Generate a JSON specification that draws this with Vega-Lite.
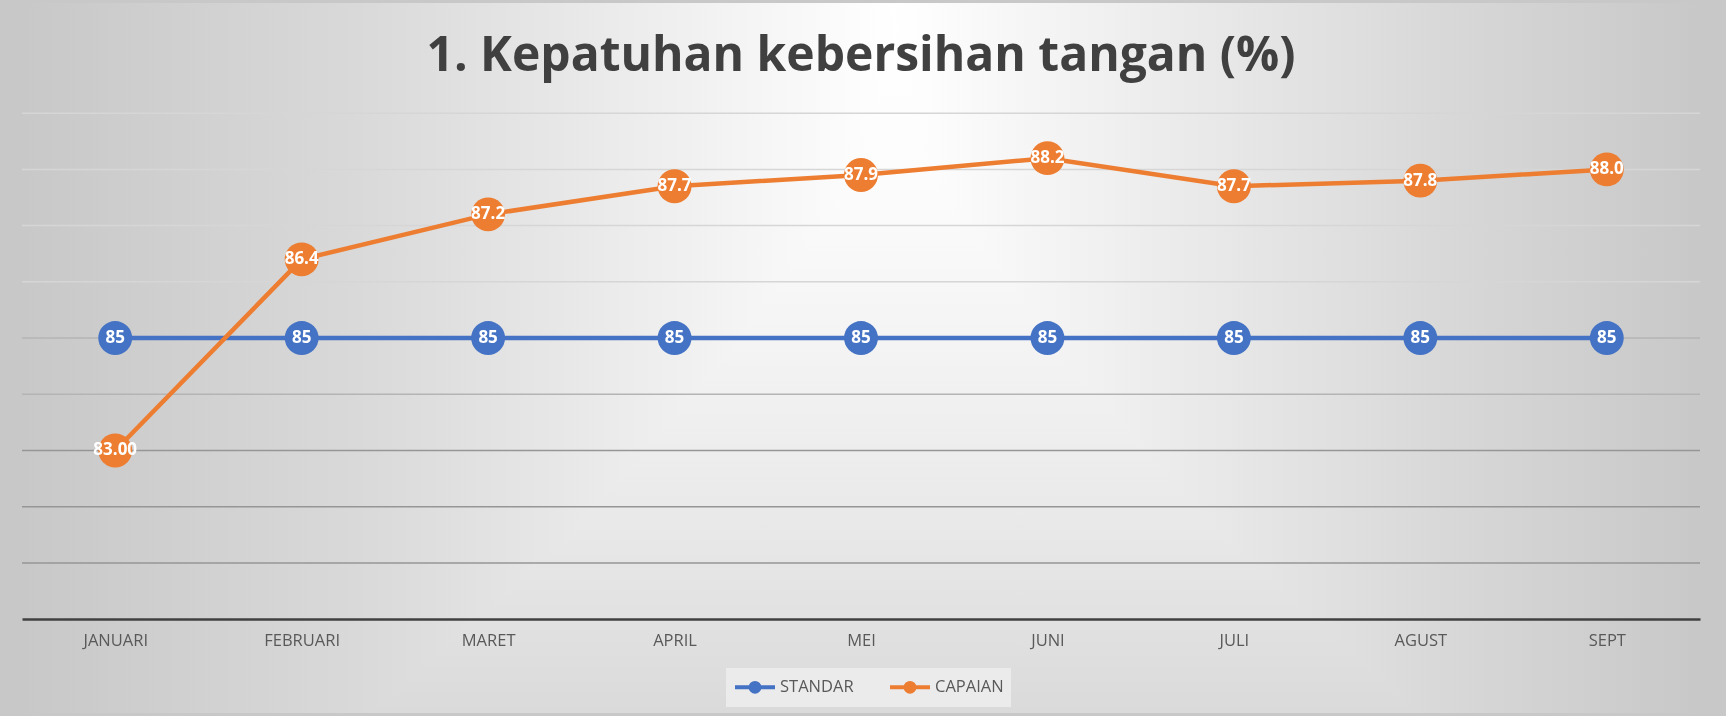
{
  "$schema": "https://vega.github.io/schema/vega-lite/v6.json",
  "description": "Kepatuhan kebersihan tangan: standar vs capaian per bulan.",
  "width": 1678,
  "height": 710,
  "autosize": {"type": "none"},
  "padding": {"left": 22, "top": 3, "right": 26, "bottom": 3},
  "background": "#c8c8c8",
  "title": {
    "text": "1. Kepatuhan kebersihan tangan (%)",
    "font": "Open Sans",
    "fontSize": 48,
    "fontWeight": "bold",
    "color": "#404040",
    "anchor": "middle",
    "frame": "group",
    "baseline": "middle",
    "offset": -52,
    "dy": 50
  },
  "datasets": {
    "bg": [{}],
    "gridlines": [
      {"nilai": 81}, {"nilai": 82}, {"nilai": 83}, {"nilai": 84}, {"nilai": 85},
      {"nilai": 86}, {"nilai": 87}, {"nilai": 88}, {"nilai": 89}
    ],
    "chart": [
      {"bulan": "JANUARI", "seri": "STANDAR", "nilai": 85, "label": "85"},
      {"bulan": "FEBRUARI", "seri": "STANDAR", "nilai": 85, "label": "85"},
      {"bulan": "MARET", "seri": "STANDAR", "nilai": 85, "label": "85"},
      {"bulan": "APRIL", "seri": "STANDAR", "nilai": 85, "label": "85"},
      {"bulan": "MEI", "seri": "STANDAR", "nilai": 85, "label": "85"},
      {"bulan": "JUNI", "seri": "STANDAR", "nilai": 85, "label": "85"},
      {"bulan": "JULI", "seri": "STANDAR", "nilai": 85, "label": "85"},
      {"bulan": "AGUST", "seri": "STANDAR", "nilai": 85, "label": "85"},
      {"bulan": "SEPT", "seri": "STANDAR", "nilai": 85, "label": "85"},
      {"bulan": "JANUARI", "seri": "CAPAIAN", "nilai": 83.0, "label": "83.00"},
      {"bulan": "FEBRUARI", "seri": "CAPAIAN", "nilai": 86.4, "label": "86.4"},
      {"bulan": "MARET", "seri": "CAPAIAN", "nilai": 87.2, "label": "87.2"},
      {"bulan": "APRIL", "seri": "CAPAIAN", "nilai": 87.7, "label": "87.7"},
      {"bulan": "MEI", "seri": "CAPAIAN", "nilai": 87.9, "label": "87.9"},
      {"bulan": "JUNI", "seri": "CAPAIAN", "nilai": 88.2, "label": "88.2"},
      {"bulan": "JULI", "seri": "CAPAIAN", "nilai": 87.7, "label": "87.7"},
      {"bulan": "AGUST", "seri": "CAPAIAN", "nilai": 87.8, "label": "87.8"},
      {"bulan": "SEPT", "seri": "CAPAIAN", "nilai": 88.0, "label": "88.0"}
    ]
  },
  "layer": [
    {
      "data": {"name": "bg"},
      "mark": {
        "type": "rect",
        "color": {
          "gradient": "linear",
          "x1": 0, "y1": 0, "x2": 1, "y2": 0,
          "stops": [
            {"offset": 0, "color": "#c8c8c8"},
            {"offset": 0.2, "color": "#d9d9d9"},
            {"offset": 0.36, "color": "#ececec"},
            {"offset": 0.52, "color": "#ffffff"},
            {"offset": 0.68, "color": "#ececec"},
            {"offset": 0.84, "color": "#d9d9d9"},
            {"offset": 1, "color": "#c8c8c8"}
          ]
        }
      }
    },
    {
      "data": {"name": "bg"},
      "mark": {
        "type": "rect",
        "blend": "darken",
        "color": {
          "gradient": "linear",
          "x1": 0, "y1": 0, "x2": 0, "y2": 1,
          "stops": [
            {"offset": 0, "color": "#ffffff"},
            {"offset": 0.25, "color": "#fcfcfc"},
            {"offset": 0.5, "color": "#f3f3f3"},
            {"offset": 0.75, "color": "#e8e8e8"},
            {"offset": 1, "color": "#dadada"}
          ]
        }
      }
    },
    {
      "data": {"name": "gridlines"},
      "transform": [{"filter": "datum.nilai >= 86"}],
      "mark": {"type": "rule", "strokeWidth": 1.5, "color": "#d6d6d6"},
      "encoding": {"y": {"field": "nilai", "type": "quantitative"}}
    },
    {
      "data": {"name": "gridlines"},
      "transform": [{"filter": "datum.nilai >= 84 && datum.nilai < 86"}],
      "mark": {"type": "rule", "strokeWidth": 1.5, "color": "#b4b4b4"},
      "encoding": {"y": {"field": "nilai", "type": "quantitative"}}
    },
    {
      "data": {"name": "gridlines"},
      "transform": [{"filter": "datum.nilai < 84"}],
      "mark": {"type": "rule", "strokeWidth": 1.5, "color": "#969696"},
      "encoding": {"y": {"field": "nilai", "type": "quantitative"}}
    },
    {
      "data": {"name": "chart"},
      "mark": {"type": "line", "strokeWidth": 4.5},
      "encoding": {
        "x": {
          "field": "bulan",
          "type": "nominal",
          "sort": null,
          "scale": {"padding": 0.5},
          "axis": {
            "title": null,
            "orient": "bottom",
            "offset": -94,
            "zindex": 1,
            "domain": true,
            "domainColor": "#404040",
            "domainWidth": 2.5,
            "ticks": false,
            "grid": false,
            "labelAngle": 0,
            "labelFont": "Open Sans",
            "labelFontSize": 16.5,
            "labelColor": "#595959",
            "labelPadding": 13
          }
        },
        "y": {
          "field": "nilai",
          "type": "quantitative",
          "scale": {"domain": [78.33, 90.96], "nice": false, "zero": false}
        },
        "color": {
          "field": "seri",
          "type": "nominal",
          "scale": {"domain": ["STANDAR", "CAPAIAN"], "range": ["#4472C4", "#ED7D31"]},
          "legend": {
            "title": null,
            "orient": "none",
            "legendX": 704,
            "legendY": 665,
            "direction": "horizontal",
            "fillColor": "#ebebeb",
            "padding": 7,
            "columnPadding": 28,
            "labelFont": "Open Sans",
            "labelFontSize": 16.5,
            "labelColor": "#595959",
            "labelOffset": 23,
            "symbolType": "M-1,0L3,0M1.44,0A0.44,0.44,0,1,1,0.56,0A0.44,0.44,0,1,1,1.44,0Z",
            "symbolSize": 400,
            "symbolStrokeWidth": 4,
            "encode": {
              "symbols": {
                "update": {
                  "fill": {"scale": "color", "field": "value"},
                  "stroke": {"scale": "color", "field": "value"}
                }
              }
            }
          }
        }
      }
    },
    {
      "data": {"name": "chart"},
      "mark": {"type": "circle", "size": 1150, "opacity": 1},
      "encoding": {
        "x": {"field": "bulan", "type": "nominal", "sort": null},
        "y": {"field": "nilai", "type": "quantitative"},
        "color": {"field": "seri", "type": "nominal"}
      }
    },
    {
      "data": {"name": "chart"},
      "mark": {
        "type": "text",
        "font": "Open Sans",
        "fontSize": 17,
        "fontWeight": "bold",
        "color": "#ffffff",
        "baseline": "middle"
      },
      "encoding": {
        "x": {"field": "bulan", "type": "nominal", "sort": null},
        "y": {"field": "nilai", "type": "quantitative"},
        "text": {"field": "label"}
      }
    }
  ],
  "config": {
    "view": {"stroke": null},
    "axisY": {"disable": true}
  }
}
